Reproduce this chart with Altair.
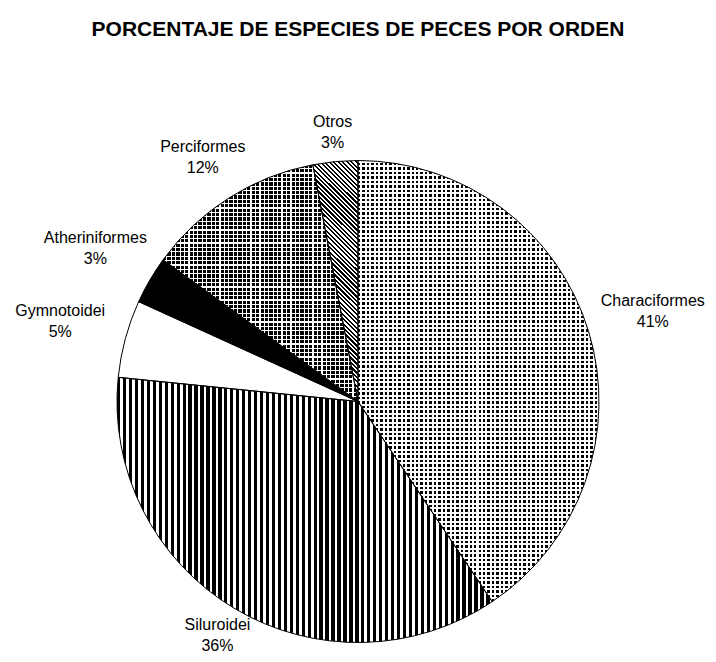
import math
import altair as alt
import pandas as pd

# ---- data ----
orders = ["Characiformes", "Siluroidei", "Gymnotoidei", "Atheriniformes", "Perciformes", "Otros"]
percent = [40.6, 36.0, 5.2, 3.2, 12.0, 3.0]

df = pd.DataFrame({"idx": list(range(len(orders))), "order": orders, "pct": percent})

FONT = "Liberation Sans"
R = 241
LH = 21
theta_scale = alt.Scale(domain=[0, 100], range=[0, 2 * math.pi])

BLACK = "#000000"
WHITE = "#ffffff"
CLEAR = "rgba(255,255,255,0)"


def stripes(n, duty, c_on, c_off, x1=0, y1=0, x2=1, y2=0):
    stops = []
    for i in range(n):
        a = i / n
        b = (i + duty) / n
        c = (i + 1) / n
        stops += [(a, c_on), (b, c_on), (b, c_off), (c, c_off)]
    return {
        "gradient": "linear",
        "x1": x1, "y1": y1, "x2": x2, "y2": y2,
        "stops": [{"offset": round(min(o, 1.0), 5), "color": col} for o, col in stops],
    }


base = (
    alt.Chart(df)
    .transform_window(cum="sum(pct)", sort=[alt.SortField("idx")], frame=[None, 0])
    .transform_calculate(
        start="datum.cum - datum.pct",
        mid="datum.cum - datum.pct / 2",
        label="datum.order + '\\n' + format(datum.pct, '.0f') + '%'",
    )
    .transform_calculate(
        lr="266 + 44 * abs(sin(datum.mid * PI / 50)) + 18 * min(0, cos(datum.mid * PI / 50))",
    )
)

enc = dict(
    theta=alt.Theta("start:Q", scale=theta_scale, stack=None),
    theta2=alt.Theta2("cum:Q"),
)


def slice_layer(name, fill):
    return (
        base.transform_filter(alt.datum.order == name)
        .mark_arc(radius=R, fill=fill, strokeWidth=0)
        .encode(**enc)
    )


# Otros diagonal stripes: gradient vector chosen for 45 degree lines in a 45x241 box
W_o, H_o = 45.0, 241.0
k = (W_o + H_o) / (W_o ** 2 + H_o ** 2)
otros_grad = stripes(64, 0.5, BLACK, WHITE, x1=0, y1=1, x2=round(W_o * k, 4), y2=round(1 - H_o * k, 4))

layers = [
    # Characiformes: dotted
    slice_layer("Characiformes", stripes(54, 0.55, BLACK, WHITE)),
    slice_layer("Characiformes", stripes(98, 0.45, WHITE, CLEAR, x2=0, y2=1)),
    # Siluroidei: vertical stripes
    slice_layer("Siluroidei", stripes(63, 0.55, BLACK, WHITE)),
    # Gymnotoidei: white
    slice_layer("Gymnotoidei", WHITE),
    # Atheriniformes: black
    slice_layer("Atheriniformes", BLACK),
    # Perciformes: black with white grid
    slice_layer("Perciformes", stripes(44, 0.73, BLACK, WHITE)),
    slice_layer("Perciformes", stripes(54, 0.73, CLEAR, WHITE, x2=0, y2=1)),
    # Otros: diagonal stripes
    slice_layer("Otros", otros_grad),
    # outlines
    base.mark_arc(radius=R, fill="transparent", stroke=BLACK, strokeWidth=1).encode(**enc),
    # labels (two lines, block centred on the anchor)
    base.mark_text(font=FONT, fontSize=16, lineBreak="\n", lineHeight=LH, dy=-LH / 2,
                   align="center", baseline="middle", color=BLACK).encode(
        theta=alt.Theta("mid:Q", scale=theta_scale, stack=None),
        radius=alt.Radius("lr:Q", scale=None),
        text="label:N",
    ),
]

chart = (
    alt.layer(*layers)
    .properties(
        width=700,
        height=505,
        padding={"left": 0, "top": 141, "right": 0, "bottom": 0},
        autosize=alt.AutoSizeParams(type="none"),
        background="white",
        title=alt.TitleParams(
            "PORCENTAJE DE ESPECIES DE PECES  POR ORDEN",
            font=FONT, fontSize=21, fontWeight="bold", color=BLACK,
            anchor="middle", offset=74,
        ),
    )
    .configure_view(stroke=None)
)

chart.save("out.html", embed_options={"renderer": "svg", "actions": False})
